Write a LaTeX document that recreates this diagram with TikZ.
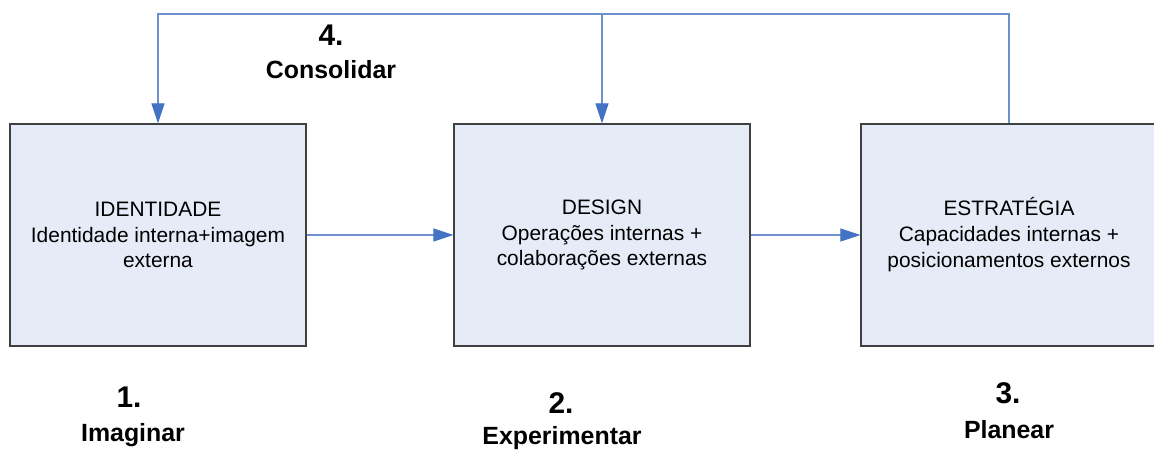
\documentclass[tikz,border=0pt]{standalone}
\usepackage{fontspec}
\setmainfont{Liberation Sans}
\usetikzlibrary{arrows.meta}

\definecolor{boxfill}{RGB}{230,236,247}
\definecolor{boxline}{RGB}{64,64,64}
\definecolor{linkline}{RGB}{110,145,205}
\definecolor{tipblue}{RGB}{68,114,196}

\tikzset{
  stage/.style={draw=boxline, line width=1.3bp, fill=boxfill, rectangle,
    minimum width=296bp, minimum height=222bp, inner sep=0pt,
    align=center, font=\fontsize{21}{26}\selectfont},
  link/.style={draw=linkline, line width=1.1bp,
    -{Triangle[length=20bp,width=13bp,color=tipblue]}},
  stepnum/.style={anchor=base, font=\bfseries\fontsize{30}{30}\selectfont},
  steplabel/.style={anchor=base, font=\bfseries\fontsize{25}{25}\selectfont}
}

\begin{document}
\begin{tikzpicture}[x=1bp, y=-1bp]
  \clip (0,0) rectangle (1154,455);
  \fill[white] (0,0) rectangle (1154,455);

  % stage boxes
  \node[stage] (b1) at (158,235) {IDENTIDADE\\Identidade interna+imagem\\externa};
  \node[stage] (b2) at (602,235) {DESIGN\\Operações internas +\\colaborações externas};
  \node[stage] (b3) at (1009,235) {ESTRATÉGIA\\Capacidades internas +\\posicionamentos externos};

  % forward flow
  \draw[link] (b1.east) -- (b2.west);
  \draw[link] (b2.east) -- (b3.west);

  % feedback loop along the top
  \coordinate (t3) at (1009,14);
  \coordinate (t2) at (602,14);
  \coordinate (t1) at (158,14);
  \draw[link] (b3.north) -- (t3) -- (t1) -- (b1.north);
  \draw[link] (t2) -- (b2.north);

  % step labels
  \node[stepnum]   (n4) at (331,46)  {4.};
  \node[steplabel] (l4) at (331,79)  {Consolidar};
  \node[stepnum]   (n1) at (129,408) {1.};
  \node[steplabel] (l1) at (133,442) {Imaginar};
  \node[stepnum]   (n2) at (561,414) {2.};
  \node[steplabel] (l2) at (562,445) {Experimentar};
  \node[stepnum]   (n3) at (1008,404) {3.};
  \node[steplabel] (l3) at (1009,439) {Planear};
\end{tikzpicture}
\end{document}
